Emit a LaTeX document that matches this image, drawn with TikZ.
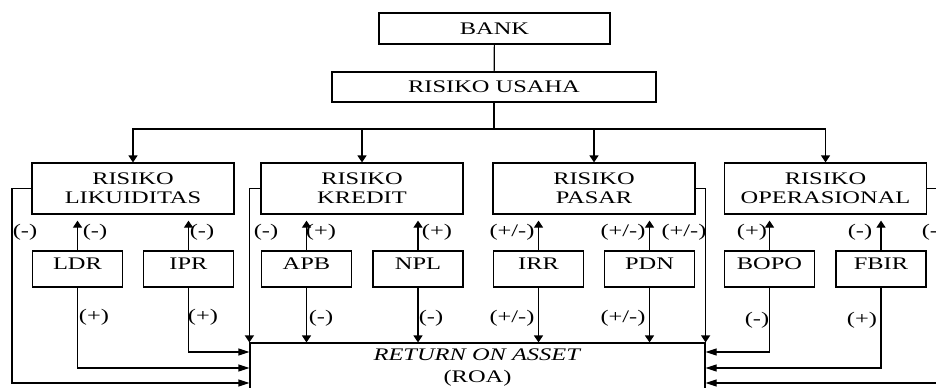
\documentclass[tikz,border=0pt]{standalone}
\usepackage{fontspec}
\setmainfont{Liberation Serif}[FakeStretch=1.38]
\usetikzlibrary{arrows.meta}

\begin{document}
\begin{tikzpicture}[
            x = 0.5pt, y = -0.5pt, line width = 0.6pt,
            font = \fontsize{8.85}{9.5}\selectfont,
            box/.style = {draw, inner sep = 0pt, align = center},
            riskbox/.style = {box, minimum width = 101pt, minimum height = 25.5pt},
            ratio/.style = {box, minimum width = 45pt, minimum height = 18pt,
                            text height = 6pt, text depth = 6pt},
            vtip/.style = {-{Triangle[length = 3.5pt, width = 4.5pt]}},
            htip/.style = {-{Triangle[length = 5.5pt, width = 3.5pt]}},
            sign/.style = {inner sep = 0pt}]
            \useasboundingbox (0,0) rectangle (936,387);
            \clip (0,0) rectangle (936,387);

            % top of the tree
            \node[box, minimum width = 115.5pt, minimum height = 15.5pt] (bank) at (494.5,28.5) {BANK};
            \node[box, minimum width = 162pt, minimum height = 15pt] (usaha) at (494,87) {RISIKO USAHA};

            % risk groups
            \node[riskbox] (lik) at (133,188.5) {RISIKO\\LIKUIDITAS};
            \node[riskbox] (kre) at (362,188.5) {RISIKO\\KREDIT};
            \node[riskbox] (pas) at (594,188.5) {RISIKO\\PASAR};
            \node[riskbox] (ope) at (825.5,188.5) {RISIKO\\OPERASIONAL};

            % ratios
            \node[ratio] (ldr) at (77.5,269) {LDR};
            \node[ratio] (ipr) at (188.5,269) {IPR};
            \node[ratio] (apb) at (306.5,269) {APB};
            \node[ratio] (npl) at (418,269) {NPL};
            \node[ratio] (irr) at (538.5,269) {IRR};
            \node[ratio] (pdn) at (649.5,269) {PDN};
            \node[ratio] (bopo) at (769.5,269) {BOPO};
            \node[ratio] (fbir) at (881,269) {FBIR};

            \node[box, minimum width = 227.5pt, minimum height = 25pt] (roa) at (477.5,368)
                {\textit{RETURN ON ASSET}\\[1.5pt](ROA)};

            % tree edges
            \coordinate (split) at (494,129);
            \draw (bank) -- (usaha);
            \draw (usaha) -- (split);
            \foreach \r in {lik,kre,pas,ope}
                \draw[vtip] (split) -| (\r.north);

            \foreach \k/\r in {ldr/lik,ipr/lik,apb/kre,npl/kre,irr/pas,pdn/pas,bopo/ope,fbir/ope}
                \draw[vtip, shorten > = 3pt] (\k.north) -- (\k.north |- \r.south);

            \foreach \k in {apb,npl,irr,pdn}
                \draw[vtip] (\k.south) -- (\k.south |- roa.north);

            % into ROA from the sides
            \coordinate (lk) at (12,383);
            \coordinate (rk) at (945,383);
            \draw[htip] (lik.west) -| (lk) -- (lk -| roa.west);
            \draw[htip] (ldr.south) |- (roa.west);
            \draw[htip] (ipr.south) |- ([yshift = 8pt]roa.west);
            \draw[vtip] (kre.west) -| (roa.north west);
            \draw[vtip] (pas.east) -| (roa.north east);
            \draw[htip] (bopo.south) |- ([yshift = 8pt]roa.east);
            \draw[htip] (fbir.south) |- (roa.east);
            \draw[htip] (ope.east) -| (rk) -- (rk -| roa.east);

            % signs above the ratios
            \node[sign] (s1) at (25,232) {(-)};
            \node[sign] (s2) at (95,232) {(-)};
            \node[sign] (s3) at (202,232) {(-)};
            \node[sign] (s4) at (266,232) {(-)};
            \node[sign] (s5) at (321,232) {(+)};
            \node[sign] (s6) at (437,232) {(+)};
            \node[sign] (s7) at (512,232) {(+/-)};
            \node[sign] (s8) at (623,232) {(+/-)};
            \node[sign] (s9) at (684,232) {(+/-)};
            \node[sign] (s10) at (752,232) {(+)};
            \node[sign] (s11) at (860,232) {(-)};
            \node[sign] (s12) at (934,232) {(-)};

            % signs below the ratios
            \node[sign] (t1) at (94,317) {(+)};
            \node[sign] (t2) at (203,317) {(+)};
            \node[sign] (t3) at (321,318) {(-)};
            \node[sign] (t4) at (431,318) {(-)};
            \node[sign] (t5) at (512,318) {(+/-)};
            \node[sign] (t6) at (623,318) {(+/-)};
            \node[sign] (t7) at (757,320) {(-)};
            \node[sign] (t8) at (862,320) {(+)};
        \end{tikzpicture}
\end{document}
